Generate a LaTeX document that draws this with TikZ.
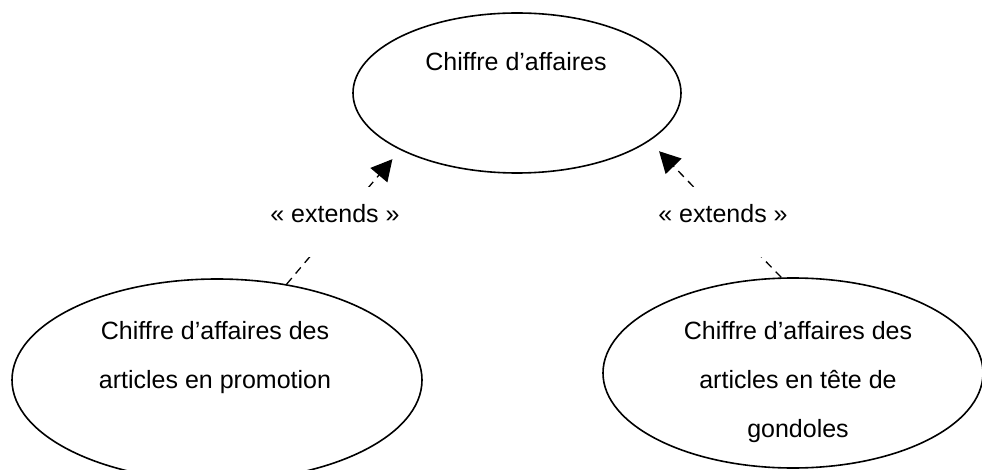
\documentclass[tikz,border=0pt]{standalone}
\usepackage{fontspec}
\setmainfont{Liberation Sans}
\usetikzlibrary{shapes.geometric,arrows.meta}
\begin{document}
\begin{tikzpicture}[x=1pt,y=-1pt,
  usecase/.style={draw=black,line width=1.6pt,ellipse,inner sep=0pt},
  caption/.style={font=\fontsize{25}{49}\selectfont,align=center,anchor=base,inner sep=0pt},
  extend/.style={draw=black,line width=1.3pt,dash pattern=on 8pt off 6pt,
                 -{Triangle[length=21pt,width=22pt]}},
  stereo/.style={font=\fontsize{25}{30}\selectfont,anchor=base,fill=white,
                 inner xsep=4pt,inner ysep=0pt,text height=36pt,text depth=34pt}]
\useasboundingbox (0,0) rectangle (982,470);
\fill[white] (0,0) rectangle (982,470);

% use cases
\node[usecase,minimum width=328pt,minimum height=160pt] (ca) at (517,93) {};
\node[usecase,minimum width=410pt,minimum height=202pt] (promo) at (217,380) {};
\node[usecase,minimum width=380pt,minimum height=190pt] (tete) at (793,373) {};

% use case names (a multi-line node sits on the baseline of its last line)
\node[caption] (caT) at (516,71) {Chiffre d’affaires};
\node[caption] (promoT) at (215,388) {Chiffre d’affaires des\\articles en promotion};
\node[caption] (teteT) at (798,437) {Chiffre d’affaires des\\articles en tête de\\gondoles};

% extension relations
\draw[extend,shorten >=12pt] (promo.54.4) -- (ca.206.6);
\draw[extend,shorten >=14pt] (tete.97.8) -- (ca.340.2);

% stereotypes, set over the dashed lines
\node[stereo] (ext1) at (335,223) {« extends »};
\node[stereo] (ext2) at (723,223) {« extends »};
\end{tikzpicture}
\end{document}
